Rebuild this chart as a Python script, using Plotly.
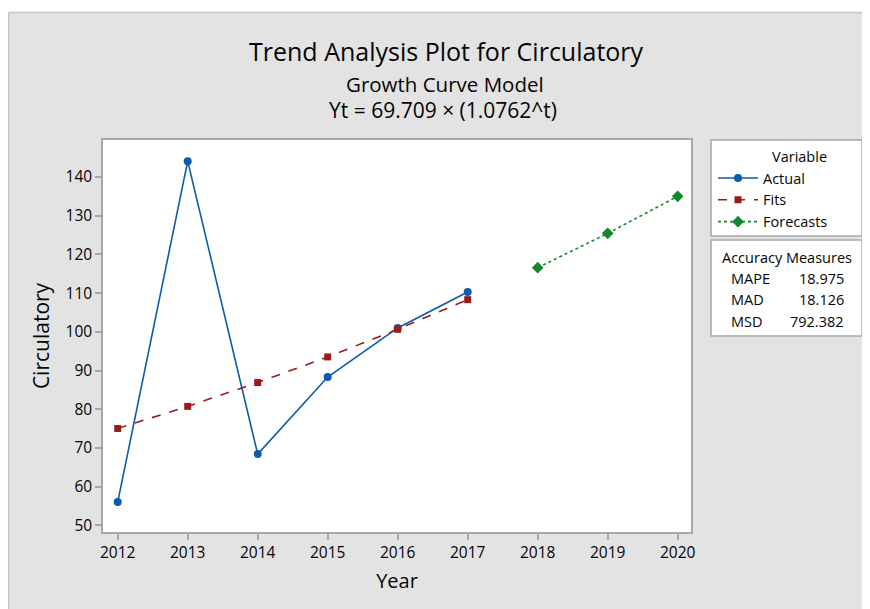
import plotly.graph_objects as go

years_actual = [2012, 2013, 2014, 2015, 2016, 2017]
actual = [56.0, 144.1, 68.4, 88.3, 101.0, 110.3]
fits = [75.02, 80.74, 86.89, 93.51, 100.64, 108.31]
years_forecast = [2018, 2019, 2020]
forecasts = [116.56, 125.45, 135.01]
x_ticks = list(range(2012, 2021))
y_ticks = list(range(50, 141, 10))
acc_names = ["MAPE", "MAD", "MSD"]
acc_values = ["18.975", "18.126", "792.382"]

FONT = "Open Sans"
TXT = "#050505"
OFF = 8  # page offset of the figure in the screenshot
W, H = 870 - OFF, 609 - OFF
# plot area in screenshot pixels: x 103..691, y 140..532
L, T = 103 - OFF, 140 - OFF
R = W - (691 - OFF)
B = H - (532 - OFF)
PW, PH = W - L - R, H - T - B


def px(x):
    return (x - OFF - L) / PW


def py(y):
    return (T + PH - (y - OFF)) / PH


fig = go.Figure()
fig.add_trace(go.Scatter(x=years_actual, y=actual, name="Actual", mode="lines+markers",
                         line=dict(color="#0b5cad", width=1.6),
                         marker=dict(symbol="circle", size=8, color="#0b5cad")))
fig.add_trace(go.Scatter(x=years_actual, y=fits, name="Fits", mode="lines+markers",
                         line=dict(color="#9b1b1b", width=1.6, dash="dash"),
                         marker=dict(symbol="square", size=7, color="#9b1b1b")))
fig.add_trace(go.Scatter(x=years_forecast, y=forecasts, name="Forecasts", mode="lines+markers",
                         line=dict(color="#12892b", width=1.6, dash="dot"),
                         marker=dict(symbol="diamond", size=9, color="#12892b")))

shapes = []
# white strip at top of the figure, with grey frame edges
shapes.append(dict(type="rect", xref="paper", yref="paper", x0=px(0), x1=px(900), y0=py(12), y1=py(0),
                   fillcolor="white", line=dict(width=0), layer="below"))
shapes.append(dict(type="line", xref="paper", yref="paper", x0=px(8.5), x1=px(900), y0=py(12.5), y1=py(12.5),
                   line=dict(color="#c6c6c6", width=1.5), layer="below"))
shapes.append(dict(type="line", xref="paper", yref="paper", x0=px(8.7), x1=px(8.7), y0=py(12.5), y1=py(640),
                   line=dict(color="#c6c6c6", width=1.5), layer="below"))
# legend box and accuracy box
shapes.append(dict(type="rect", xref="paper", yref="paper", x0=px(711), x1=px(862), y0=py(236), y1=py(140),
                   fillcolor="white", line=dict(color="#a8a8a8", width=1.5), layer="below"))
shapes.append(dict(type="rect", xref="paper", yref="paper", x0=px(711), x1=px(862), y0=py(336), y1=py(240),
                   fillcolor="white", line=dict(color="#a8a8a8", width=1.5), layer="below"))


def ann(text, x, y, size, xanchor="center"):
    return dict(text=text, x=px(x), y=py(y), xref="paper", yref="paper", xanchor=xanchor, yanchor="middle",
                showarrow=False, font=dict(family=FONT, size=size, color=TXT))


annotations = [
    ann("Trend Analysis Plot for Circulatory", 446, 51, 25),
    ann("Growth Curve Model", 445, 84, 20.5),
    ann("Yt = 69.709 × (1.0762^t)", 443, 110, 21),
    ann("Variable", 770, 156, 14.5, "left"),
    ann("Accuracy Measures", 787, 257, 14.5),
]
for i, (n, v) in enumerate(zip(acc_names, acc_values)):
    yy = 278 + i * 21.5
    annotations.append(ann(n, 729, yy, 14.5, "left"))
    annotations.append(ann(v, 846, yy, 14.5, "right"))

fig.update_layout(
    width=W, height=H,
    margin=dict(l=L, r=R, t=T, b=B),
    paper_bgcolor="#e3e3e3", plot_bgcolor="white",
    font=dict(family=FONT, color=TXT),
    showlegend=True,
    legend=dict(x=px(713), y=py(162), xanchor="left", yanchor="top",
                bgcolor="rgba(0,0,0,0)", borderwidth=0,
                font=dict(size=14.5, family=FONT, color=TXT), tracegroupgap=0, itemwidth=40),
    shapes=shapes, annotations=annotations,
    xaxis=dict(range=[2011.79, 2020.19], tickmode="array", tickvals=x_ticks, ticktext=[str(v) for v in x_ticks],
               showgrid=False, zeroline=False, showline=True, mirror=True, linecolor="#a8a8a8", linewidth=1.5,
               ticks="outside", ticklen=6, tickcolor="#a8a8a8", tickwidth=1.5,
               tickfont=dict(size=15.5, family=FONT, color=TXT),
               title=dict(text="Year", font=dict(size=20, family=FONT, color=TXT), standoff=12)),
    yaxis=dict(range=[48.27, 149.56], tickmode="array", tickvals=y_ticks, ticktext=[str(v) for v in y_ticks],
               showgrid=False, zeroline=False, showline=True, mirror=True, linecolor="#a8a8a8", linewidth=1.5,
               ticks="outside", ticklen=6, tickcolor="#a8a8a8", tickwidth=1.5,
               tickfont=dict(size=15.5, family=FONT, color=TXT),
               title=dict(text="Circulatory", font=dict(size=21, family=FONT, color=TXT), standoff=10)),
)

fig.write_html("out.html")
